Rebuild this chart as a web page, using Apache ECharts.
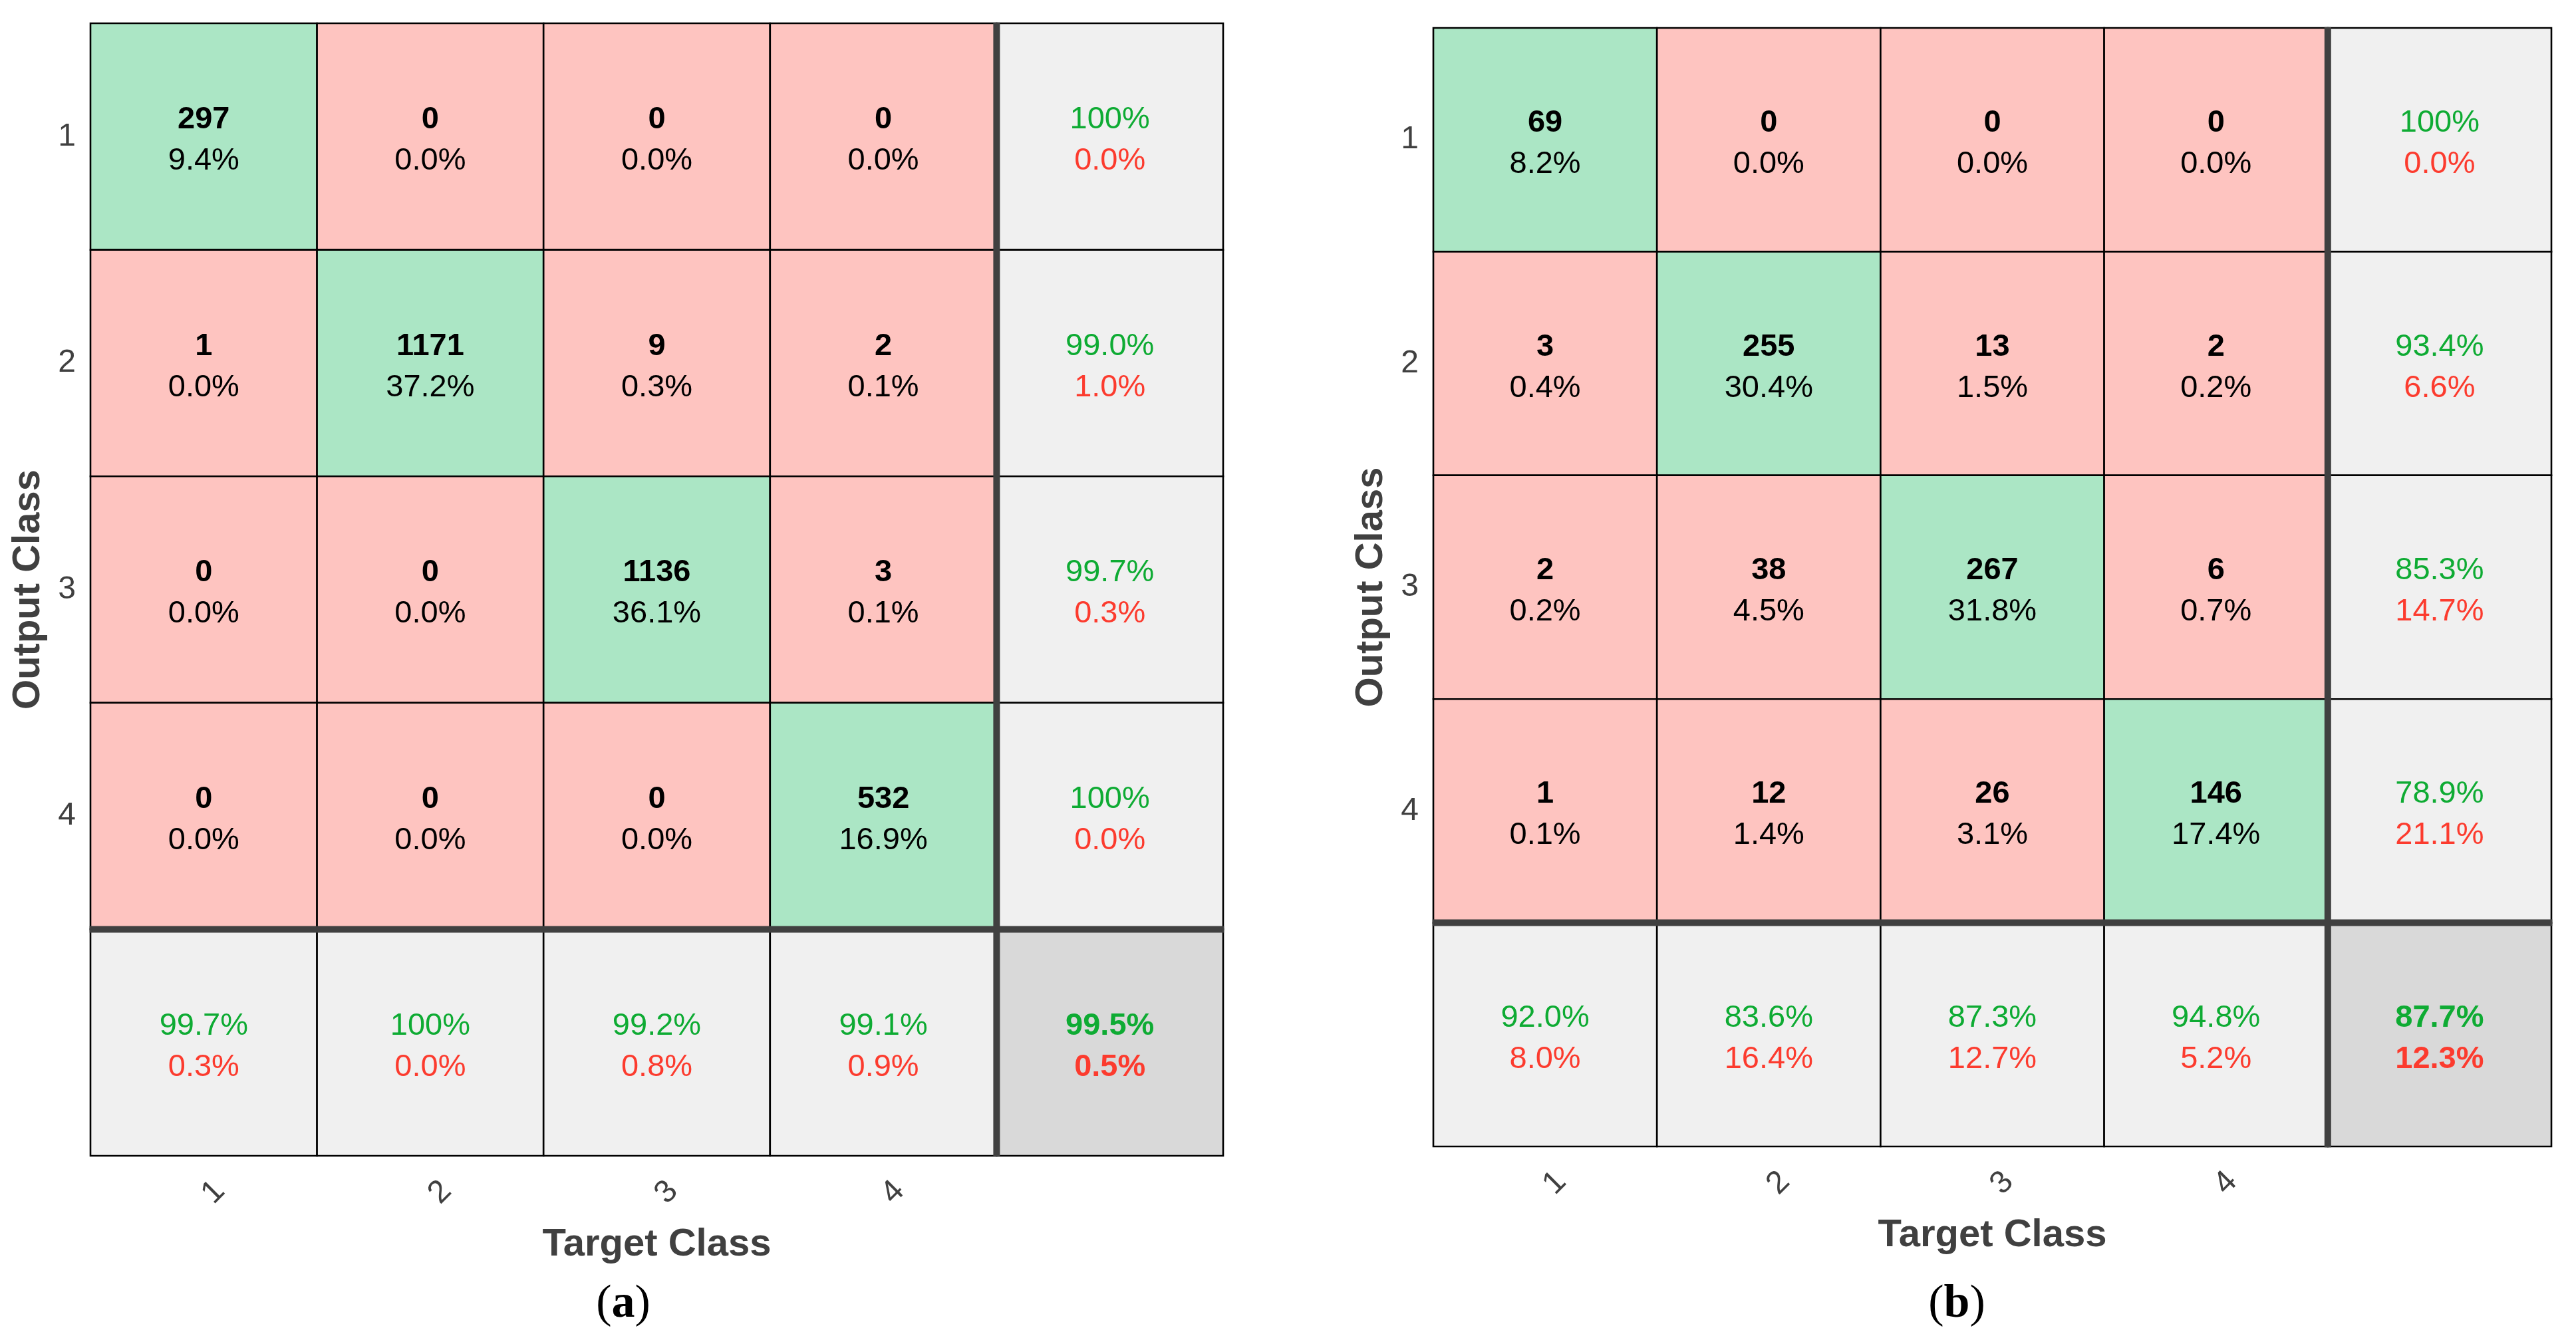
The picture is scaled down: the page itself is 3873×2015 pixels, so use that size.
<!DOCTYPE html>
<html>
<head>
<meta charset="utf-8">
<script src="https://cdn.jsdelivr.net/npm/echarts@6/dist/echarts.min.js"></script>
<style>
  html, body { margin: 0; padding: 0; background: #ffffff; }
  #chart { width: 3873px; height: 2015px; }
</style>
</head>
<body>
<div id="chart"></div>
<script>
// ---------- data ----------
const classes = ['1', '2', '3', '4'];

// (a)
const countsA = [[297, 0, 0, 0], [1, 1171, 9, 2], [0, 0, 1136, 3], [0, 0, 0, 532]];
const pctA = [[9.4, 0.0, 0.0, 0.0], [0.0, 37.2, 0.3, 0.1], [0.0, 0.0, 36.1, 0.1], [0.0, 0.0, 0.0, 16.9]];
const rowAccA = [100, 99.0, 99.7, 100];
const rowErrA = [0.0, 1.0, 0.3, 0.0];
const colAccA = [99.7, 100, 99.2, 99.1];
const colErrA = [0.3, 0.0, 0.8, 0.9];
const totalA = [99.5, 0.5];

// (b)
const countsB = [[69, 0, 0, 0], [3, 255, 13, 2], [2, 38, 267, 6], [1, 12, 26, 146]];
const pctB = [[8.2, 0.0, 0.0, 0.0], [0.4, 30.4, 1.5, 0.2], [0.2, 4.5, 31.8, 0.7], [0.1, 1.4, 3.1, 17.4]];
const rowAccB = [100, 93.4, 85.3, 78.9];
const rowErrB = [0.0, 6.6, 14.7, 21.1];
const colAccB = [92.0, 83.6, 87.3, 94.8];
const colErrB = [8.0, 16.4, 12.7, 5.2];
const totalB = [87.7, 12.3];

const axisTitleX = 'Target Class';
const axisTitleY = 'Output Class';
const panelLabels = ['a', 'b'];

// ---------- styles ----------
const FONT = "'Liberation Sans', Arial, Helvetica, sans-serif";
const C_GREEN = '#abe6c5', C_RED = '#fec4c0', C_GRAY = '#f0f0f0', C_TOTAL = '#d9d9d9';
const T_GREEN = '#0eab33', T_RED = '#fc3b2e';
const FS = 47, LH = 62;
const rich = {
  c: { fill: '#000', fontSize: FS, fontWeight: 'bold', fontFamily: FONT, lineHeight: LH },
  p: { fill: '#000', fontSize: FS, fontFamily: FONT, lineHeight: LH },
  g: { fill: T_GREEN, fontSize: FS, fontFamily: FONT, lineHeight: LH },
  r: { fill: T_RED, fontSize: FS, fontFamily: FONT, lineHeight: LH },
  G: { fill: T_GREEN, fontSize: FS, fontWeight: 'bold', fontFamily: FONT, lineHeight: LH },
  R: { fill: T_RED, fontSize: FS, fontWeight: 'bold', fontFamily: FONT, lineHeight: LH }
};
const fmt = v => (v >= 100 ? '100%' : v.toFixed(1) + '%');

function buildCells(counts, pct, rowAcc, rowErr, colAcc, colErr, total) {
  const n = classes.length, out = [];
  for (let r = 0; r < n; r++) {
    for (let c = 0; c < n; c++) {
      out.push({ x: c, y: r, fill: r === c ? C_GREEN : C_RED,
        text: '{c|' + counts[r][c] + '}\n{p|' + fmt(pct[r][c]) + '}' });
    }
    out.push({ x: n, y: r, fill: C_GRAY, text: '{g|' + fmt(rowAcc[r]) + '}\n{r|' + fmt(rowErr[r]) + '}' });
  }
  for (let c = 0; c < n; c++) {
    out.push({ x: c, y: n, fill: C_GRAY, text: '{g|' + fmt(colAcc[c]) + '}\n{r|' + fmt(colErr[c]) + '}' });
  }
  out.push({ x: n, y: n, fill: C_TOTAL, text: '{G|' + fmt(total[0]) + '}\n{R|' + fmt(total[1]) + '}' });
  return out;
}

const cellsA = buildCells(countsA, pctA, rowAccA, rowErrA, colAccA, colErrA, totalA);
const cellsB = buildCells(countsB, pctB, rowAccB, rowErrB, colAccB, colErrB, totalB);
const cats = classes.concat(['']);

function cellSeries(cells, idx) {
  return {
    type: 'custom', xAxisIndex: idx, yAxisIndex: idx, silent: true, animation: false,
    data: cells.map(o => [o.x, o.y]),
    renderItem: function (params, api) {
      const o = cells[params.dataIndex];
      const p = api.coord([api.value(0), api.value(1)]);
      const s = api.size([1, 1]);
      return {
        type: 'group',
        children: [
          { type: 'rect', shape: { x: p[0] - s[0] / 2, y: p[1] - s[1] / 2, width: s[0], height: s[1] },
            style: { fill: o.fill, stroke: '#000', lineWidth: 2.6 } },
          { type: 'text', x: p[0], y: p[1] + 6,
            style: { text: o.text, rich: rich, align: 'center', verticalAlign: 'middle', fontFamily: FONT, fontSize: FS } }
        ]
      };
    }
  };
}

function dividerSeries(idx) {
  const n = classes.length;
  return {
    type: 'custom', xAxisIndex: idx, yAxisIndex: idx, silent: true, animation: false, z: 5,
    data: [[n, n]],
    renderItem: function (params, api) {
      const p = api.coord([api.value(0), api.value(1)]);
      const s = api.size([1, 1]);
      const cs = params.coordSys;
      const bx = p[0] - s[0] / 2, by = p[1] - s[1] / 2;
      const st = { stroke: '#404040', lineWidth: 10 };
      return {
        type: 'group',
        children: [
          { type: 'line', shape: { x1: bx, y1: cs.y - 1.3, x2: bx, y2: cs.y + cs.height + 1.3 }, style: st },
          { type: 'line', shape: { x1: cs.x - 1.3, y1: by, x2: cs.x + cs.width + 1.3, y2: by }, style: st }
        ]
      };
    }
  };
}

function xAxis(idx) {
  return {
    type: 'category', gridIndex: idx, data: cats, position: 'bottom',
    axisLine: { show: false }, axisTick: { show: false }, splitLine: { show: false },
    axisLabel: { interval: 0, rotate: 45, align: 'center', verticalAlign: 'middle', margin: 70,
      padding: [0, 0, 0, 42],
      fontSize: 48, color: '#404040', fontFamily: FONT },
    name: axisTitleX, nameLocation: 'middle', nameGap: 105,
    nameTextStyle: { fontSize: 58, fontWeight: 'bold', color: '#404040', fontFamily: FONT }
  };
}
function yAxis(idx) {
  return {
    type: 'category', gridIndex: idx, data: cats, inverse: true,
    axisLine: { show: false }, axisTick: { show: false }, splitLine: { show: false },
    axisLabel: { interval: 0, margin: 22, fontSize: 48, color: '#404040', fontFamily: FONT },
    name: axisTitleY, nameLocation: 'middle', nameGap: 64, nameRotate: 90,
    nameTextStyle: { fontSize: 58, fontWeight: 'bold', color: '#404040', fontFamily: FONT }
  };
}

const chart = echarts.init(document.getElementById('chart'), null, { renderer: 'canvas' });
const panelRich = {
  p: { fill: '#000', fontSize: 70, fontFamily: "'Liberation Serif', 'Times New Roman', serif" },
  b: { fill: '#000', fontSize: 70, fontWeight: 'bold', fontFamily: "'Liberation Serif', 'Times New Roman', serif" }
};
chart.setOption({
  backgroundColor: '#ffffff',
  animation: false,
  grid: [
    { left: 136, top: 35, width: 1703, height: 1703 },
    { left: 2155, top: 42, width: 1681, height: 1682 }
  ],
  xAxis: [xAxis(0), xAxis(1)],
  yAxis: [yAxis(0), yAxis(1)],
  series: [cellSeries(cellsA, 0), dividerSeries(0), cellSeries(cellsB, 1), dividerSeries(1)],
  graphic: [
    { type: 'text', x: 937, y: 1962, style: { text: '{p|(}{b|' + panelLabels[0] + '}{p|)}', rich: panelRich, align: 'center', verticalAlign: 'middle' } },
    { type: 'text', x: 2942, y: 1962, style: { text: '{p|(}{b|' + panelLabels[1] + '}{p|)}', rich: panelRich, align: 'center', verticalAlign: 'middle' } }
  ]
});
</script>
</body>
</html>
